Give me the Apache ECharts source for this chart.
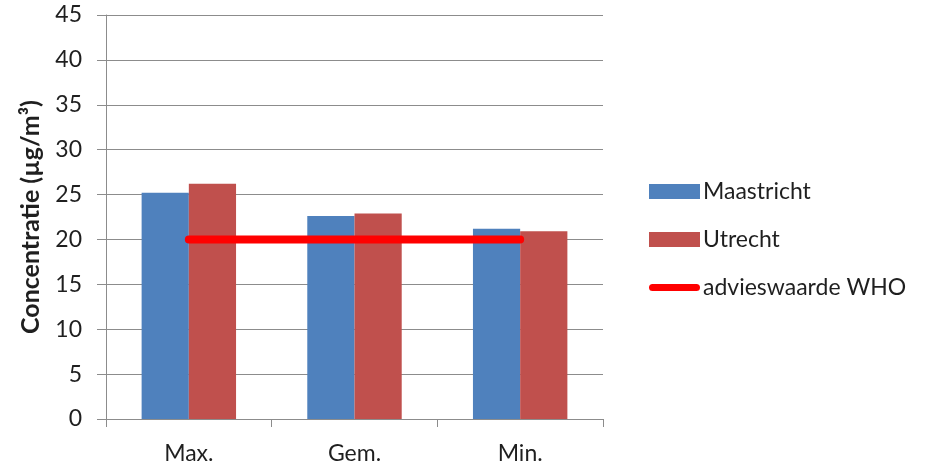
<!DOCTYPE html>
<html>
<head>
<meta charset="utf-8">
<script src="https://cdn.jsdelivr.net/npm/echarts@6/dist/echarts.min.js"></script>
<style>
  html, body { margin: 0; padding: 0; background: #fff; }
  #chart { width: 926px; height: 465px; }
</style>
</head>
<body>
<div id="chart"></div>
<script>
// Measured concentrations per statistic (µg/m³)
const categories = ['Max.', 'Gem.', 'Min.'];
const maastricht = [25.2, 22.6, 21.2];
const utrecht = [26.2, 22.9, 20.9];
const whoGuideline = [20, 20, 20];

const FONT = 'Lato, "Open Sans", sans-serif';
const TEXT = '#1f1f1f';
const GRID = '#8c8c8c';

// thick rounded stroke used as the legend key of the guideline series
const ROUND_BAR = 'path://M4,0 L53,0 A4,4 0 0 1 53,8 L4,8 A4,4 0 0 1 4,0 Z';

const chart = echarts.init(document.getElementById('chart'));
chart.setOption({
  animation: false,
  textStyle: { fontFamily: FONT },
  grid: { left: 106, right: 323, top: 15, bottom: 45, containLabel: false },
  legend: {
    orient: 'vertical',
    left: 644,
    top: 175,
    itemWidth: 51,
    itemHeight: 15,
    itemGap: 25,
    textStyle: { fontSize: 23, lineHeight: 23, color: TEXT, fontFamily: FONT, padding: [0, 0, 0, -2] },
    data: [
      { name: 'Maastricht', icon: 'rect' },
      { name: 'Utrecht', icon: 'rect' },
      { name: 'advieswaarde WHO', icon: ROUND_BAR, itemStyle: { color: '#FF0000', borderWidth: 0 } }
    ]
  },
  xAxis: {
    type: 'category',
    data: categories,
    axisLine: { lineStyle: { color: GRID, width: 1 } },
    axisTick: { show: true, length: 8, lineStyle: { color: GRID } },
    axisLabel: { fontSize: 23, color: TEXT, margin: 23, fontFamily: FONT }
  },
  yAxis: {
    type: 'value',
    min: 0,
    max: 45,
    interval: 5,
    name: 'Concentratie (µg/m³)',
    nameLocation: 'middle',
    nameGap: 63,
    nameTextStyle: { fontSize: 25, fontWeight: 'bold', color: TEXT, fontFamily: FONT },
    axisLine: { show: true, lineStyle: { color: GRID, width: 1 } },
    axisTick: { show: true, length: 9, lineStyle: { color: GRID } },
    axisLabel: { fontSize: 23, color: TEXT, margin: 24, fontFamily: FONT },
    splitLine: { lineStyle: { color: GRID, width: 1 } }
  },
  series: [
    {
      name: 'Maastricht',
      type: 'bar',
      data: maastricht,
      barGap: '0%',
      barCategoryGap: '43%',
      itemStyle: { color: '#4F81BD' }
    },
    {
      name: 'Utrecht',
      type: 'bar',
      data: utrecht,
      itemStyle: { color: '#C0504D' }
    },
    {
      name: 'advieswaarde WHO',
      type: 'line',
      data: whoGuideline,
      symbol: 'none',
      z: 5,
      itemStyle: { color: '#FF0000' },
      lineStyle: { color: '#FF0000', width: 8, cap: 'round' }
    }
  ]
});
</script>
</body>
</html>
